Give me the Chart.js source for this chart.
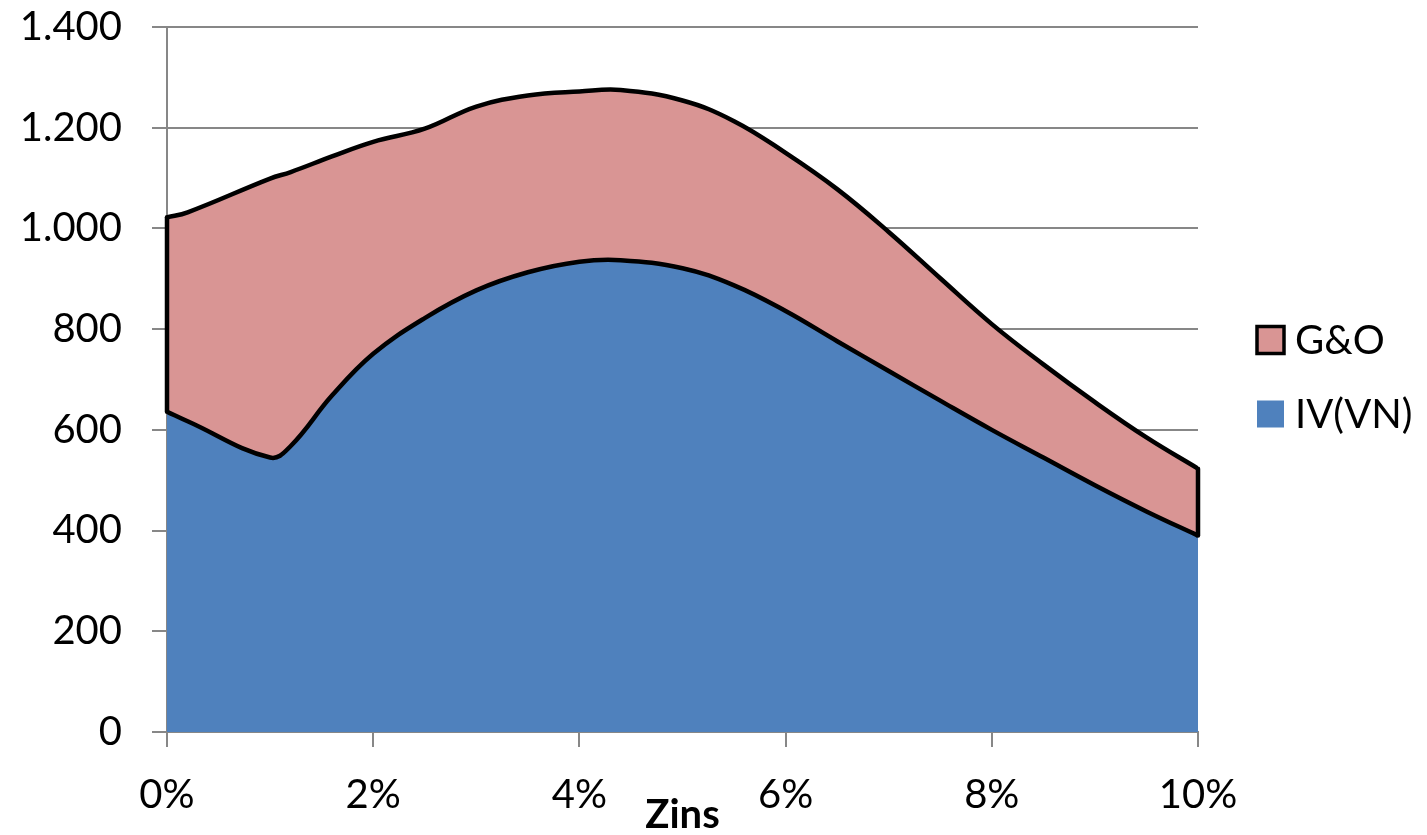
<!DOCTYPE html>
<html>
<head>
<meta charset="utf-8">
<script src="https://cdn.jsdelivr.net/npm/chart.js@4"></script>
<style>
  html, body { margin: 0; padding: 0; background: #ffffff; }
  canvas { display: block; }
</style>
</head>
<body>
<canvas id="chart" width="1427" height="835"></canvas>
<script>
// Zinssatz in Prozent
const rates = [0, 0.2, 1, 1.2, 1.6, 2, 2.5, 3, 3.5, 4, 4.4, 5, 5.5, 6, 6.5, 7, 7.5, 8, 8.5, 9, 9.5, 10];
// IV(VN)
const ivVN = [636, 617, 545, 568, 668, 751, 822, 877, 913, 934, 937, 921, 887, 836, 776, 717, 658, 600, 545, 490, 438, 390];
// G&O (auf IV(VN) gestapelt)
const gAndO = [386, 415, 554, 544, 475, 421, 376, 365, 351, 338, 338, 333, 326, 314, 302, 276, 243, 210, 185, 165, 147, 133];

const seriesNames = ['IV(VN)', 'G&O'];
const xTickStep = 2;
const yMax = 1400;
const yTickStep = 200;

const FONT = 'Lato, "Open Sans", sans-serif';
const GRID = '#878787';

function fmtThousands(v) {
  return String(v).replace(/\B(?=(\d{3})+(?!\d))/g, '.');
}

function points(values) {
  return rates.map((r, i) => ({ x: r, y: values[i] }));
}

// Black edges closing the G&O band at both ends of the x range
const bandEdges = {
  id: 'bandEdges',
  afterDatasetsDraw(chart) {
    const lower = chart.getDatasetMeta(0).data;
    const upper = chart.getDatasetMeta(1).data;
    const ctx = chart.ctx;
    ctx.save();
    ctx.strokeStyle = '#000000';
    ctx.lineWidth = 4.5;
    ctx.lineCap = 'round';
    [0, rates.length - 1].forEach(i => {
      ctx.beginPath();
      ctx.moveTo(lower[i].x, lower[i].y);
      ctx.lineTo(upper[i].x, upper[i].y);
      ctx.stroke();
    });
    ctx.restore();
  }
};

// Legend to the right of the plot: G&O on top, IV(VN) below
const sideLegend = {
  id: 'sideLegend',
  afterDraw(chart) {
    const ctx = chart.ctx;
    const area = chart.chartArea;
    const mid = (area.top + area.bottom) / 2;
    const boxX = area.right + 59;
    const box = 27;
    const textX = boxX + box + 11;
    const rows = [
      { ds: chart.data.datasets[1], cy: mid - 39.5, stroke: 3.5 },
      { ds: chart.data.datasets[0], cy: mid + 34.5, stroke: 0 }
    ];
    ctx.save();
    ctx.font = '40px ' + FONT;
    ctx.textAlign = 'left';
    ctx.textBaseline = 'middle';
    rows.forEach(r => {
      const top = r.cy - box / 2;
      ctx.fillStyle = r.ds.backgroundColor;
      ctx.fillRect(boxX, top, box, box);
      if (r.stroke) {
        ctx.lineWidth = r.stroke;
        ctx.lineJoin = 'miter';
        ctx.strokeStyle = r.ds.borderColor;
        ctx.strokeRect(boxX, top, box, box);
      }
      ctx.fillStyle = '#000000';
      ctx.fillText(r.ds.label, textX, r.cy + 1);
    });
    ctx.restore();
  }
};

new Chart(document.getElementById('chart'), {
  type: 'line',
  data: {
    datasets: [
      {
        label: seriesNames[0],
        data: points(ivVN),
        backgroundColor: '#4F81BD',
        borderColor: '#000000',
        borderWidth: 4.5,
        borderJoinStyle: 'round',
        fill: 'origin',
        pointRadius: 0,
        tension: 0.4
      },
      {
        label: seriesNames[1],
        data: points(gAndO),
        backgroundColor: '#D99594',
        borderColor: '#000000',
        borderWidth: 4.5,
        borderJoinStyle: 'round',
        fill: '-1',
        pointRadius: 0,
        tension: 0.4
      }
    ]
  },
  options: {
    responsive: false,
    animation: false,
    layout: { padding: { top: 27, left: 0, right: 229, bottom: 0 } },
    plugins: {
      tooltip: { enabled: false },
      legend: { display: false }
    },
    scales: {
      x: {
        type: 'linear',
        min: 0,
        max: 10,
        afterFit(scale) { scale.height = 103; },
        ticks: {
          stepSize: xTickStep,
          color: '#000000',
          font: { family: FONT, size: 40 },
          padding: 24,
          maxRotation: 0,
          callback: v => v + '%'
        },
        grid: {
          drawOnChartArea: false,
          drawTicks: true,
          tickLength: 15,
          color: GRID,
          lineWidth: 2
        },
        border: { display: true, color: GRID, width: 2 },
        title: {
          display: true,
          text: 'Zins',
          color: '#000000',
          font: { family: FONT, size: 40, weight: 'bold', lineHeight: 1 },
          padding: { top: 0, bottom: 0 }
        }
      },
      y: {
        stacked: true,
        min: 0,
        max: yMax,
        afterFit(scale) {
          scale.width = 167;
          scale.paddingTop = 0;
          scale.paddingBottom = 0;
        },
        ticks: {
          stepSize: yTickStep,
          color: '#000000',
          font: { family: FONT, size: 40 },
          padding: 30,
          callback: v => fmtThousands(v)
        },
        grid: {
          drawTicks: true,
          tickLength: 15,
          color: GRID,
          lineWidth: 2
        },
        border: { display: true, color: GRID, width: 2 }
      }
    }
  },
  plugins: [bandEdges, sideLegend]
});
</script>
</body>
</html>
